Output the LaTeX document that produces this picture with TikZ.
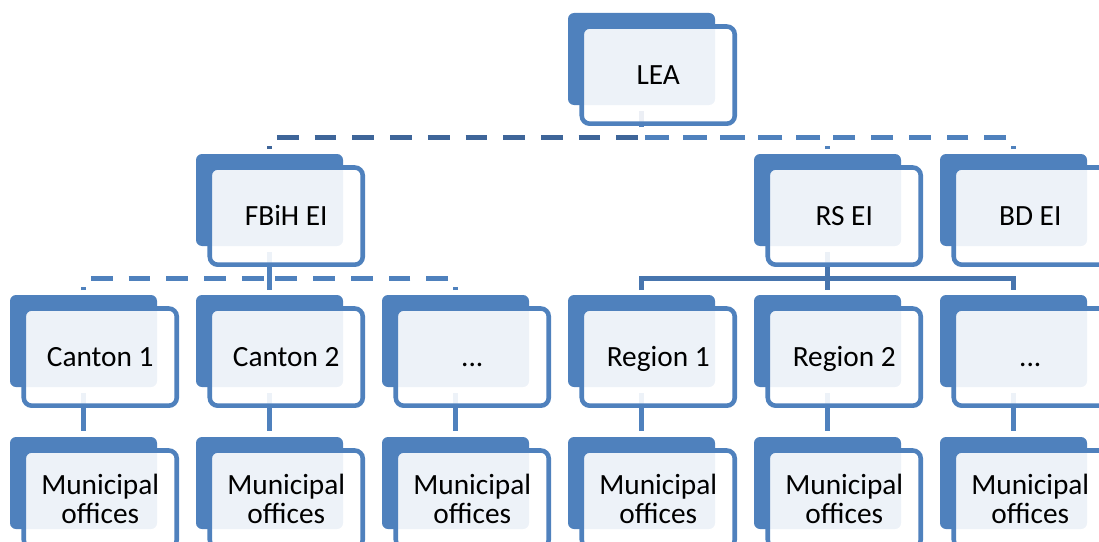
\documentclass[tikz,border=0pt]{standalone}
\usepackage{fontspec}
\setmainfont{Carlito}
\usetikzlibrary{calc}
\pgfdeclarelayer{bg}
\pgfsetlayers{bg,main}
\definecolor{blueA}{HTML}{4F81BD}
\definecolor{blueDk}{HTML}{3E6599}
\definecolor{blueMd}{HTML}{4775AE}
\tikzset{
  backbox/.style={rectangle, rounded corners=4.5pt, fill=blueA, draw=none,
    minimum width=110.25pt, minimum height=69pt, inner sep=0pt, outer sep=0pt},
  frontbox/.style={rectangle, rounded corners=6pt, draw=blueA, line width=3.4pt,
    fill=white, fill opacity=0.9, text opacity=1, draw opacity=1,
    minimum width=114.75pt, minimum height=72.9pt, inner sep=0pt, outer sep=0pt,
    font=\fontsize{22pt}{22pt}\selectfont, align=center,
    text height=13.9pt, text depth=0pt},
  twoline/.style={text height=, text depth=},
  conn/.style={line width=3.75pt, draw=blueA},
  cdash/.style={conn, dash pattern=on 16.3pt off 12pt, dash phase=14pt},
  topline/.style={line width=4pt}
}
\newcommand\orgbox[5][]{%
  \node[backbox] (#2) at (#3+73.5, #4+46) {};
  \node[frontbox,#1] (#2-t) at (#3+90.25, #4+62.1) {#5};
}
\begin{document}
\begin{tikzpicture}[x=0.75pt,y=-0.75pt]
\useasboundingbox (0,0) rectangle (1099,542);
\clip (0,0) rectangle (1099,542);
% nodes
\orgbox{lea}{568}{13}{LEA}
\orgbox{fbih}{196}{154}{FBiH EI}
\orgbox{rs}{754}{154}{RS EI}
\orgbox{bd}{940}{154}{BD EI}
\orgbox{c1}{10}{295}{Canton 1}
\orgbox{c2}{196}{295}{Canton 2}
\orgbox{c3}{382}{295}{...}
\orgbox{r1}{568}{295}{Region 1}
\orgbox{r2}{754}{295}{Region 2}
\orgbox{r3}{940}{295}{...}
\orgbox[twoline]{m1}{10}{437}{Municipal\\offices}
\orgbox[twoline]{m2}{196}{437}{Municipal\\offices}
\orgbox[twoline]{m3}{382}{437}{Municipal\\offices}
\orgbox[twoline]{m4}{568}{437}{Municipal\\offices}
\orgbox[twoline]{m5}{754}{437}{Municipal\\offices}
\orgbox[twoline]{m6}{940}{437}{Municipal\\offices}
% connectors
\begin{pgfonlayer}{bg}
\coordinate (busA) at (0,137.3);
\coordinate (busB) at (0,278.3);
\draw[cdash, topline] ($(bd.north)+(0,-5)$) -- (bd.north |- busA) -- (lea.south |- busA) -- ($(lea.south)+(0,6)$);
\draw[cdash, topline] ($(rs.north)+(0,-5)$) -- (rs.north |- busA) -- (lea.south |- busA) -- ($(lea.south)+(0,6)$);
\draw[cdash, topline, draw=blueDk] ($(fbih.north)+(0,-5)$) -- (fbih.north |- busA) -- (lea.south |- busA) -- ($(lea.south)+(0,6)$);
\draw[cdash] ($(c1.north)+(0,-5)$) -- (c1.north |- busB) -- (fbih.south |- busB) -- ($(fbih.south)+(0,6)$);
\draw[cdash] ($(c3.north)+(0,-5)$) -- (c3.north |- busB) -- (fbih.south |- busB) -- ($(fbih.south)+(0,6)$);
\draw[conn] ($(fbih.south)+(0,6)$) -- ($(c2.north)+(0,-5)$);
\draw[conn, draw=blueMd] ($(r1.north)+(0,-5)$) -- (r1.north |- busB) -- (r3.north |- busB) -- ($(r3.north)+(0,-5)$);
\draw[conn, draw=blueMd] ($(rs.south)+(0,6)$) -- ($(r2.north)+(0,-5)$);
\draw[conn] ($(c1.south)+(0,6)$) -- ($(m1.north)+(0,-6)$);
\draw[conn] ($(c2.south)+(0,6)$) -- ($(m2.north)+(0,-6)$);
\draw[conn] ($(c3.south)+(0,6)$) -- ($(m3.north)+(0,-6)$);
\draw[conn] ($(r1.south)+(0,6)$) -- ($(m4.north)+(0,-6)$);
\draw[conn] ($(r2.south)+(0,6)$) -- ($(m5.north)+(0,-6)$);
\draw[conn] ($(r3.south)+(0,6)$) -- ($(m6.north)+(0,-6)$);
\end{pgfonlayer}
\end{tikzpicture}
\end{document}
